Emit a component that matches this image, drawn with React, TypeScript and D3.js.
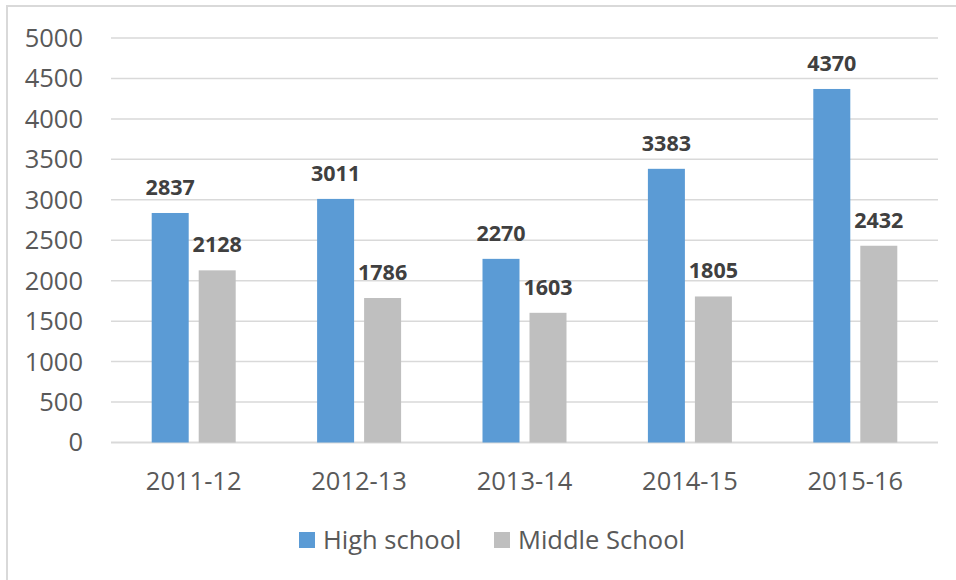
import React from "react";
import * as d3 from "d3";

const categories = ["2011-12", "2012-13", "2013-14", "2014-15", "2015-16"];
const seriesNames = ["High school", "Middle School"];
const highSchool = [2837, 3011, 2270, 3383, 4370];
const middleSchool = [2128, 1786, 1603, 1805, 2432];
const yTicks = [0, 500, 1000, 1500, 2000, 2500, 3000, 3500, 4000, 4500, 5000];
const colors = ["#5B9BD5", "#BFBFBF"];

const W = 956;
const H = 580;
const FONT = "'Open Sans', 'Noto Sans', sans-serif";

export default function App() {
  const left = 111;
  const right = 938;
  const y = d3.scaleLinear().domain([0, 5000]).range([442.5, 38]);
  const x0 = d3.scaleBand<string>().domain(categories).range([left, right]).paddingInner(0).paddingOuter(0);
  const barW = 37;
  const gap = 10;
  const series = [highSchool, middleSchool];

  return (
    <svg
      width={W}
      height={H}
      style={{ position: "absolute", left: 0, top: 0, background: "#fff" }}
      fontFamily={FONT}
    >
      <rect x={7} y={6} width={W + 20} height={H + 20} fill="#fff" stroke="#D9D9D9" strokeWidth={2} />
      {yTicks.map((t) => (
        <g key={t}>
          <line x1={left} x2={right} y1={y(t)} y2={y(t)} stroke="#D9D9D9" strokeWidth={t === 0 ? 2 : 1.5} />
          <text x={83} y={y(t)} dy="0.35em" textAnchor="end" fontSize={25.5} fill="#595959">
            {t}
          </text>
        </g>
      ))}
      {categories.map((c, i) => {
        const cx = (x0(c) as number) + x0.bandwidth() / 2;
        const start = cx - barW - gap / 2;
        return (
          <g key={c}>
            {series.map((s, j) => {
              const bx = start + j * (barW + gap);
              return (
                <g key={j}>
                  <rect x={bx} y={y(s[i])} width={barW} height={y(0) - y(s[i])} fill={colors[j]} />
                  <text
                    x={bx + barW / 2}
                    y={y(s[i]) - 18}
                    textAnchor="middle"
                    fontSize={21.5}
                    fontWeight="bold"
                    fill="#404040"
                  >
                    {s[i]}
                  </text>
                </g>
              );
            })}
            <text x={cx} y={490} textAnchor="middle" fontSize={25.5} fill="#595959">
              {c}
            </text>
          </g>
        );
      })}
      {seriesNames.map((n, j) => {
        const lx = j === 0 ? 299 : 494;
        return (
          <g key={n}>
            <rect x={lx} y={532} width={16} height={16} fill={colors[j]} />
            <text x={lx + 24} y={549} fontSize={25.5} fill="#595959">
              {n}
            </text>
          </g>
        );
      })}
    </svg>
  );
}
